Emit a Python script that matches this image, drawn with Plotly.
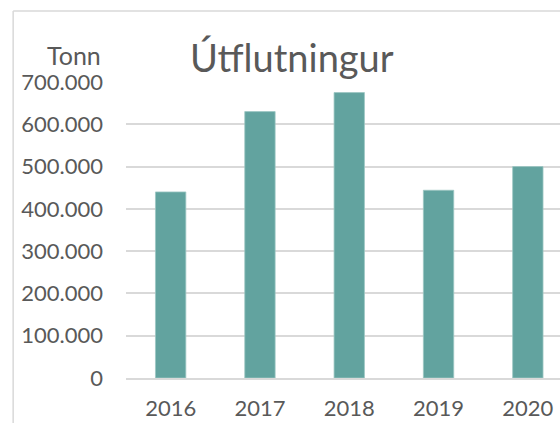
import plotly.graph_objects as go

years = ["2016", "2017", "2018", "2019", "2020"]
tonn = [440000, 630000, 675000, 444000, 500000]

y_ticks = [0, 100000, 200000, 300000, 400000, 500000, 600000, 700000]

bar_color = "#62a39f"
grid_color = "#d9d9d9"
text_color = "#595959"
font_family = "Lato, 'Noto Sans', sans-serif"

fig = go.Figure()

fig.add_trace(go.Bar(
    x=years, y=tonn,
    marker=dict(color=bar_color, line=dict(color="#9cc6c3", width=0.8)),
    width=0.34,
    hovertemplate="%{x}: %{y:,.0f} tonn<extra></extra>",
))

# frame of the (cropped) chart area
fig.add_shape(type="line", xref="paper", yref="paper",
              x0=-0.26, x1=1.0, y0=1.24, y1=1.24,
              line=dict(color=grid_color, width=1.5))
fig.add_shape(type="line", xref="paper", yref="paper",
              x0=-0.26, x1=-0.26, y0=1.24, y1=-0.2,
              line=dict(color=grid_color, width=1.5))

fig.add_annotation(
    text="Tonn", xref="paper", yref="paper", x=0, y=1,
    xanchor="right", yanchor="bottom", xshift=-23, yshift=10,
    showarrow=False, font=dict(size=25, color=text_color, family=font_family),
)

fig.update_layout(
    width=560, height=423,
    margin=dict(l=126, r=0, t=82, b=45),
    paper_bgcolor="white", plot_bgcolor="white",
    separators=",.",
    showlegend=False,
    font=dict(family=font_family, color=text_color, size=22),
    title=dict(
        text="Útflutningur", x=0.521, xanchor="center",
        yref="container", y=0.83, yanchor="bottom",
        font=dict(size=38, color=text_color, family=font_family),
    ),
    xaxis=dict(
        type="category", range=[-0.5, 4.36],
        showgrid=False, showline=True, linecolor=grid_color, linewidth=1.5,
        ticks="", ticklabelstandoff=10,
        tickfont=dict(size=22, color=text_color),
    ),
    yaxis=dict(
        range=[0, 700000], tickvals=y_ticks, tickformat=",.0f",
        showgrid=True, gridcolor=grid_color, gridwidth=1.5,
        zeroline=False, showline=False, ticks="",
        ticklabelstandoff=22,
        tickfont=dict(size=22, color=text_color),
    ),
)

fig.write_html("out.html", config={"displayModeBar": False},
               post_script="document.body.style.margin='0';")
